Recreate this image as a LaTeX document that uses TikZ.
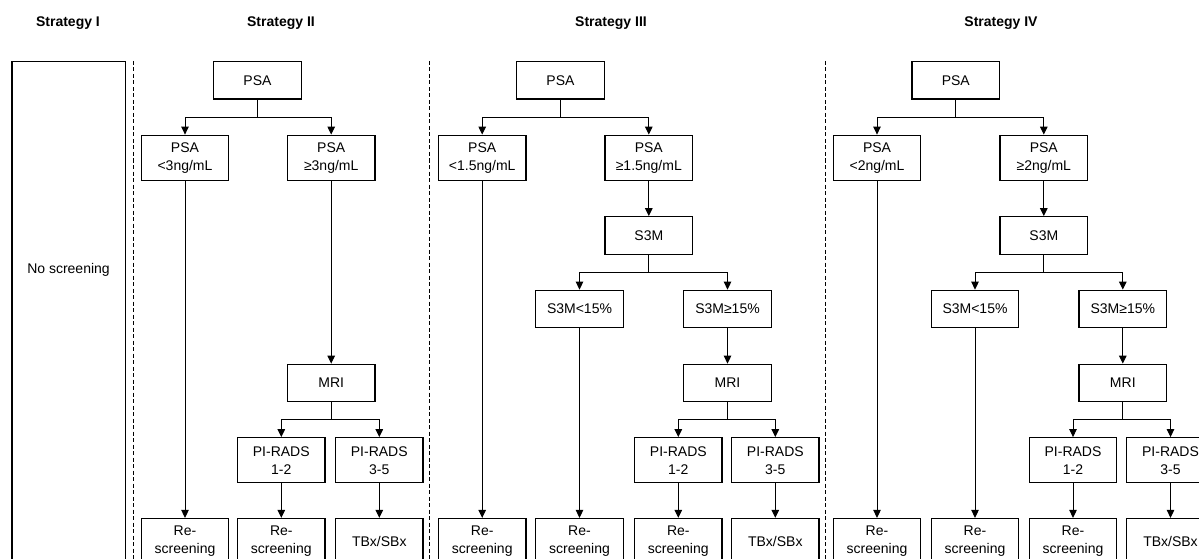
\documentclass[tikz,border=0pt]{standalone}
\usepackage{fontspec}
\setmainfont{Liberation Sans}
\usetikzlibrary{arrows.meta}
\begin{document}
\begin{tikzpicture}[x=1pt,y=-1pt,
  box/.style={draw=black,line width=1.2pt,minimum width=87.5pt,minimum height=45pt,inner sep=0pt,align=center,font=\fontsize{14}{18}\selectfont},
  sbox/.style={box,minimum height=37.5pt},
  title/.style={font=\bfseries\fontsize{14}{17}\selectfont},
  arr/.style={line width=1pt,-{Triangle[width=7.5pt,length=8pt]}},
  ln/.style={line width=1pt},
  sep/.style={line width=0.9pt,dash pattern=on 4pt off 2.5pt}]
\path[use as bounding box] (0,0) rectangle (1199,559);
\clip (0,0) rectangle (1199,559);
% titles
\node[title] (t1) at (68,23) {Strategy I};
\node[title] (t2) at (281,23) {Strategy II};
\node[title] (t3) at (611,23) {Strategy III};
\node[title] (t4) at (1001,23) {Strategy IV};
% strategy I
\draw[line width=1.2pt] (12,600) -- (12,61.7) -- (125.5,61.7) -- (125.5,600);
\node[font=\fontsize{14}{18}\selectfont] (no) at (68.5,270) {No screening};
% separators
\draw[sep] (133,61) -- (133,600);
\draw[sep] (429,61) -- (429,600);
\draw[sep] (825,61) -- (825,600);
% ---------- strategy II
\node[sbox] (psa2) at (257.5,80.3) {PSA};
\node[box] (lo2) at (185,157.7) {PSA\\<3ng/mL};
\node[box] (hi2) at (331.2,157.7) {PSA\\≥3ng/mL};
\node[sbox] (mri2) at (331.2,383) {MRI};
\node[box] (pa2) at (281.3,460.2) {PI-RADS\\1-2};
\node[box] (pb2) at (379.3,460.2) {PI-RADS\\3-5};
\node[box] (r2a) at (185,541) {Re-\\screening};
\node[box] (r2b) at (281.3,541) {Re-\\screening};
\node[box] (t2b) at (379.3,541) {TBx/SBx};
\draw[arr] (psa2.south) -- ++(0,17.7) -| (lo2.north);
\draw[arr] (psa2.south) -- ++(0,17.7) -| (hi2.north);
\draw[arr] (lo2.south) -- (r2a.north);
\draw[arr] (hi2.south) -- (mri2.north);
\draw[arr] (mri2.south) -- ++(0,17.6) -| (pa2.north);
\draw[arr] (mri2.south) -- ++(0,17.6) -| (pb2.north);
\draw[arr] (pa2.south) -- (r2b.north);
\draw[arr] (pb2.south) -- (t2b.north);
% ---------- strategy III
\node[sbox] (psa3) at (560.5,80.3) {PSA};
\node[box] (lo3) at (482.2,157.7) {PSA\\<1.5ng/mL};
\node[box] (hi3) at (648.8,157.7) {PSA\\≥1.5ng/mL};
\node[sbox] (s3) at (648.8,235.5) {S3M};
\node[sbox] (sl3) at (579.5,309) {S3M<15\%};
\node[sbox] (sh3) at (727.5,309) {S3M≥15\%};
\node[sbox] (mri3) at (727.5,383) {MRI};
\node[box] (pa3) at (678.3,460.2) {PI-RADS\\1-2};
\node[box] (pb3) at (775.3,460.2) {PI-RADS\\3-5};
\node[box] (r3a) at (482.2,541) {Re-\\screening};
\node[box] (r3b) at (579.5,541) {Re-\\screening};
\node[box] (r3c) at (678.3,541) {Re-\\screening};
\node[box] (t3b) at (775.3,541) {TBx/SBx};
\draw[arr] (psa3.south) -- ++(0,17.7) -| (lo3.north);
\draw[arr] (psa3.south) -- ++(0,17.7) -| (hi3.north);
\draw[arr] (lo3.south) -- (r3a.north);
\draw[arr] (hi3.south) -- (s3.north);
\draw[arr] (s3.south) -- ++(0,17.4) -| (sl3.north);
\draw[arr] (s3.south) -- ++(0,17.4) -| (sh3.north);
\draw[arr] (sl3.south) -- (r3b.north);
\draw[arr] (sh3.south) -- (mri3.north);
\draw[arr] (mri3.south) -- ++(0,17.6) -| (pa3.north);
\draw[arr] (mri3.south) -- ++(0,17.6) -| (pb3.north);
\draw[arr] (pa3.south) -- (r3c.north);
\draw[arr] (pb3.south) -- (t3b.north);
% ---------- strategy IV
\node[sbox] (psa4) at (955.8,80.3) {PSA};
\node[box] (lo4) at (877,157.7) {PSA\\<2ng/mL};
\node[box] (hi4) at (1043.8,157.7) {PSA\\≥2ng/mL};
\node[sbox] (s4) at (1043.8,235.5) {S3M};
\node[sbox] (sl4) at (975,309) {S3M<15\%};
\node[sbox] (sh4) at (1122.8,309) {S3M≥15\%};
\node[sbox] (mri4) at (1122.8,383) {MRI};
\node[box] (pa4) at (1073,460.2) {PI-RADS\\1-2};
\node[box] (pb4) at (1170.5,460.2) {PI-RADS\\3-5};
\node[box] (r4a) at (877,541) {Re-\\screening};
\node[box] (r4b) at (975,541) {Re-\\screening};
\node[box] (r4c) at (1073,541) {Re-\\screening};
\node[box] (t4b) at (1170.5,541) {TBx/SBx};
\draw[arr] (psa4.south) -- ++(0,17.7) -| (lo4.north);
\draw[arr] (psa4.south) -- ++(0,17.7) -| (hi4.north);
\draw[arr] (lo4.south) -- (r4a.north);
\draw[arr] (hi4.south) -- (s4.north);
\draw[arr] (s4.south) -- ++(0,17.4) -| (sl4.north);
\draw[arr] (s4.south) -- ++(0,17.4) -| (sh4.north);
\draw[arr] (sl4.south) -- (r4b.north);
\draw[arr] (sh4.south) -- (mri4.north);
\draw[arr] (mri4.south) -- ++(0,17.6) -| (pa4.north);
\draw[arr] (mri4.south) -- ++(0,17.6) -| (pb4.north);
\draw[arr] (pa4.south) -- (r4c.north);
\draw[arr] (pb4.south) -- (t4b.north);
\end{tikzpicture}
\end{document}
